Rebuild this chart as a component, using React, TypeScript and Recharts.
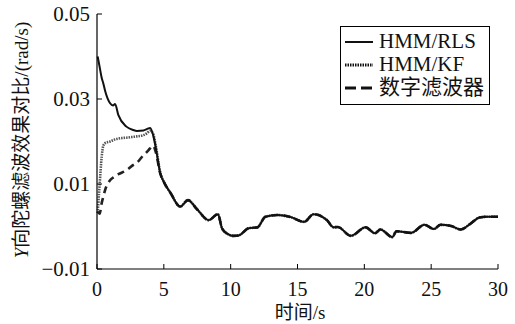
import { LineChart, Line, XAxis, YAxis, Legend } from 'recharts';

const times = [
  0.05, 0.2, 0.35, 0.47, 0.6, 0.98, 1.2, 1.35, 1.6, 2.2, 2.72, 2.98, 3.48, 3.72, 3.98, 4.2, 4.4, 4.73,
  5.0, 5.48, 6.23, 6.8, 7.5, 8.35, 9.05, 9.35, 9.8, 10.2, 10.6, 11.35, 12.0, 12.6, 13.5, 14.5, 15.5,
  16.2, 17.2, 17.7, 18.0, 19.0, 20.1, 20.8, 21.2, 22.1, 22.4, 23.5, 24.5, 25.2, 25.7, 26.5, 27.2,
  28.0, 28.6, 29.2, 30,
];

const hmmRls = [
  0.04, 0.0375, 0.035, 0.0337, 0.032, 0.029, 0.0285, 0.0288, 0.0262, 0.0235, 0.0227, 0.0225, 0.0226,
  0.0229, 0.0232, 0.0215, 0.0185, 0.0125, 0.0105, 0.008, 0.0047, 0.0062, 0.004, 0.0015, 0.0029,
  -0.0004, -0.0018, -0.0022, -0.0021, -0.0004, -0.0002, 0.0023, 0.0027, 0.0022, 0.0011, 0.0029,
  0.0015, -0.0002, -0.0001, -0.0022, -0.0002, -0.0016, -0.0007, -0.0025, -0.0011, -0.0015, 0.0004,
  -0.0006, 0.0004, 0.0001, -0.0007, 0.0008, 0.0021, 0.0023, 0.0023,
];

const hmmKf = [
  0.0032, 0.01, 0.0164, 0.019, 0.0196, 0.02, 0.0203, 0.0205, 0.0207, 0.0209, 0.0211, 0.0212, 0.0215,
  0.0219, 0.0225, 0.0218, 0.019, 0.0128, 0.0105, 0.008, 0.0047, 0.0062, 0.004, 0.0015, 0.0029,
  -0.0004, -0.0018, -0.0022, -0.0021, -0.0004, -0.0002, 0.0023, 0.0027, 0.0022, 0.0011, 0.0029,
  0.0015, -0.0002, -0.0001, -0.0022, -0.0002, -0.0016, -0.0007, -0.0025, -0.0011, -0.0015, 0.0004,
  -0.0006, 0.0004, 0.0001, -0.0007, 0.0008, 0.0021, 0.0023, 0.0023,
];

const digitalFilter = [
  0.0035, 0.003, 0.0055, 0.007, 0.0085, 0.0109, 0.0115, 0.0118, 0.0123, 0.0132, 0.0145, 0.015, 0.0168,
  0.0175, 0.0184, 0.019, 0.0175, 0.0125, 0.0105, 0.008, 0.0047, 0.0062, 0.004, 0.0015, 0.0029,
  -0.0004, -0.0018, -0.0022, -0.0021, -0.0004, -0.0002, 0.0023, 0.0027, 0.0022, 0.0011, 0.0029,
  0.0015, -0.0002, -0.0001, -0.0022, -0.0002, -0.0016, -0.0007, -0.0025, -0.0011, -0.0015, 0.0004,
  -0.0006, 0.0004, 0.0001, -0.0007, 0.0008, 0.0021, 0.0023, 0.0023,
];

const xTicks = [0, 5, 10, 15, 20, 25, 30];
const yTicks = [-0.01, 0.01, 0.03, 0.05];

const seriesNames = ['HMM/RLS', 'HMM/KF', '数字滤波器'];

const FONT = '"Liberation Serif", "Noto Sans CJK SC", serif';

const data = times.map((t, i) => ({
  t,
  rls: hmmRls[i],
  kf: hmmKf[i],
  dig: digitalFilter[i],
}));

function XTick({ x, y, payload }: any) {
  return (
    <g>
      <line x1={x} x2={x} y1={y} y2={y - 5} stroke="#000" strokeWidth={1} />
      <text x={x} y={y + 20} textAnchor="middle" dominantBaseline="central" fontFamily={FONT} fontSize={20} fill="#111">
        {payload.value}
      </text>
    </g>
  );
}

function YTick({ x, y, payload }: any) {
  const v = payload.value;
  const label = v < 0 ? '\u2212' + Math.abs(v).toFixed(2) : v.toFixed(2);
  return (
    <g>
      <line x1={x} x2={x + 5} y1={y} y2={y} stroke="#000" strokeWidth={1} />
      <text x={x - 7} y={y} textAnchor="end" dominantBaseline="central" fontFamily={FONT} fontSize={21} fill="#111">
        {label}
      </text>
    </g>
  );
}

function LegendBox() {
  const styles = [
    { dash: undefined, width: 2 },
    { dash: '1.5 1', width: 3 },
    { dash: '11 5', width: 3 },
  ];
  return (
    <div style={{ width: 148, height: 74, border: '1px solid #000', background: '#fff', fontFamily: FONT, fontSize: 21, color: '#111', paddingTop: 3 }}>
      {seriesNames.map((name, i) => (
        <div key={name} style={{ display: 'flex', alignItems: 'center', height: 23, lineHeight: '23px' }}>
          <svg width={34} height={10} style={{ marginLeft: 4 }}>
            <line x1={0} x2={28} y1={5} y2={5} stroke="#111" strokeWidth={styles[i].width} strokeDasharray={styles[i].dash} />
          </svg>
          <span style={{ whiteSpace: 'nowrap' }}>{name}</span>
        </div>
      ))}
    </div>
  );
}

export default function App() {
  return (
    <div style={{ position: 'absolute', left: 0, top: 0, background: '#fff' }}>
      <LineChart width={515} height={324} data={data} margin={{ top: 14, right: 17, bottom: 0, left: 0 }}>
        <XAxis
          dataKey="t"
          type="number"
          domain={[0, 30]}
          ticks={xTicks}
          height={55}
          tickSize={0}
          tickMargin={0}
          tickLine={false}
          axisLine={{ stroke: '#000', strokeWidth: 1.2 }}
          tick={<XTick />}
          label={{
            content: () => (
              <text x={300} y={312} textAnchor="middle" dominantBaseline="central" fontFamily={FONT} fontSize={19} fill="#111">
                时间/s
              </text>
            ),
          }}
        />
        <XAxis xAxisId="top" orientation="top" dataKey="t" type="number" domain={[0, 30]} height={0} tick={false} tickLine={false} axisLine={{ stroke: '#000', strokeWidth: 1.2 }} />
        <YAxis
          type="number"
          domain={[-0.01, 0.05]}
          ticks={yTicks}
          width={97}
          tickSize={0}
          tickMargin={0}
          tickLine={false}
          axisLine={{ stroke: '#000', strokeWidth: 1.2 }}
          tick={<YTick />}
          label={{
            content: () => (
              <text transform="translate(21,140) rotate(-90)" textAnchor="middle" dominantBaseline="central" fontFamily={FONT} fontSize={19} fill="#111">
                <tspan fontStyle="italic">Y</tspan>
                <tspan>向陀螺滤波效果对比/(rad/s)</tspan>
              </text>
            ),
          }}
        />
        <YAxis yAxisId="right" orientation="right" type="number" domain={[-0.01, 0.05]} width={0} tick={false} tickLine={false} axisLine={{ stroke: '#000', strokeWidth: 1.2 }} />
        <Legend
          layout="vertical"
          align="center"
          verticalAlign="middle"
          content={() => <LegendBox />}
          wrapperStyle={{ left: 340, top: 26, width: 150 }}
        />
        <Line dataKey="kf" name="HMM/KF" type="monotone" stroke="#555" strokeWidth={2.6} strokeDasharray="1.5 1" dot={false} isAnimationActive={false} />
        <Line dataKey="dig" name="数字滤波器" type="monotone" stroke="#222" strokeWidth={2.6} strokeDasharray="7 5" dot={false} isAnimationActive={false} />
        <Line dataKey="rls" name="HMM/RLS" type="monotone" stroke="#111" strokeWidth={2} dot={false} isAnimationActive={false} />
      </LineChart>
    </div>
  );
}
